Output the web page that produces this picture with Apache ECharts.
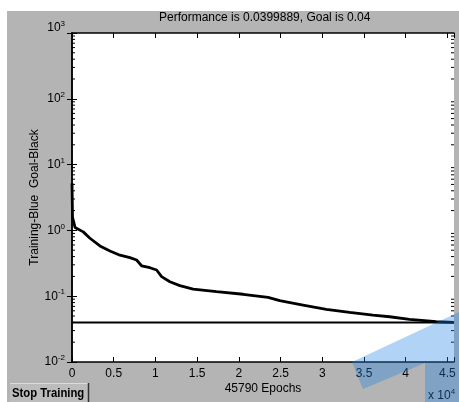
<!DOCTYPE html>
<html>
<head>
<meta charset="utf-8">
<script src="https://cdn.jsdelivr.net/npm/echarts@6/dist/echarts.min.js"></script>
<style>
  html, body { margin: 0; padding: 0; background: #fff; }
  #chart { width: 459px; height: 402px; }
</style>
</head>
<body>
<div id="chart"></div>
<script>
;(function () {
  // training curve
  const epochs = [0, 30, 60, 360, 1350, 2150, 3350, 4550, 5750, 6940, 7740, 8340, 9340, 10140, 10740, 11730, 12930,
    14520, 17320, 20510, 23500, 24900, 27690, 30490, 33280, 36070, 38070, 40460, 42260, 43650, 45790]
  const performance = [5.2, 3.0, 1.6, 1.11, 0.95, 0.76, 0.58, 0.487, 0.42, 0.385, 0.355, 0.29, 0.271, 0.25, 0.198, 0.166,
    0.145, 0.128, 0.117, 0.107, 0.096, 0.0855, 0.0734, 0.063, 0.0569, 0.0517, 0.0487, 0.0446, 0.0425, 0.0409, 0.04]
  const goal = 0.04
  const totalEpochs = 45790
  const xTickStep = 5000
  const yDecades = [-2, -1, 0, 1, 2]
  const minorSteps = [2, 3, 4, 5, 6, 7, 8, 9]

  const font = "'Liberation Sans', Arial, sans-serif"
  const ink = '#000'

  const minorTicks = []
  for (const d of yDecades) {
    for (const k of minorSteps) minorTicks.push([0, k * Math.pow(10, d)])
  }

  const powRich = {
    b: { fontSize: 12, lineHeight: 16, fontFamily: font, color: ink },
    s: { fontSize: 8, lineHeight: 8, verticalAlign: 'top', fontFamily: font, color: ink },
    g: { fontSize: 1, lineHeight: 10 },
  }

  function powLabel(v) {
    const e = Math.round(Math.log10(v))
    // the top label sits a little above its tick, as in the original
    return e === 3 ? `{b|10}{s|${e}}\n{g| }` : `{b|10}{s|${e}}`
  }

  function renderMinorTick(params, api) {
    const y = api.coord([0, api.value(1)])[1]
    const { x, width } = params.coordSys
    const style = { stroke: ink, lineWidth: 1 }
    return {
      type: 'group',
      children: [
        { type: 'line', shape: { x1: x, y1: y, x2: x + 3, y2: y }, style },
        { type: 'line', shape: { x1: x + width, y1: y, x2: x + width - 3, y2: y }, style },
      ],
    }
  }

  const frame = { show: true, lineStyle: { color: ink, width: 1.5 } }
  const tick = { show: true, inside: true, length: 5, lineStyle: { color: ink, width: 1 } }

  const chart = echarts.init(document.getElementById('chart'))
  chart.setOption({
    animation: false,
    backgroundColor: '#b4b4b4',
    title: {
      text: 'Performance is 0.0399889, Goal is 0.04',
      left: 159,
      top: 12,
      padding: 0,
      textStyle: { fontSize: 12, fontWeight: 'normal', fontFamily: font, color: ink },
    },
    grid: { left: 72, right: 5, top: 33, bottom: 40, show: true, backgroundColor: '#fff', borderWidth: 0 },
    xAxis: [
      {
        type: 'value',
        position: 'bottom',
        min: 0,
        max: totalEpochs,
        interval: xTickStep,
        axisLine: frame,
        axisTick: tick,
        splitLine: { show: false },
        axisLabel: {
          margin: 6,
          fontSize: 12,
          fontFamily: font,
          color: ink,
          formatter: (v) => (v % xTickStep === 0 ? String(v / 10000) : ''),
        },
        name: '45790 Epochs',
        nameLocation: 'middle',
        nameGap: 21,
        nameMoveOverlap: false,
        nameTextStyle: { fontSize: 12, fontFamily: font, color: ink },
      },
      {
        type: 'value',
        position: 'top',
        min: 0,
        max: totalEpochs,
        interval: xTickStep,
        axisLine: frame,
        axisTick: tick,
        splitLine: { show: false },
        axisLabel: { show: false },
      },
    ],
    yAxis: [
      {
        type: 'log',
        logBase: 10,
        position: 'left',
        min: 0.01,
        max: 1000,
        axisLine: frame,
        axisTick: tick,
        splitLine: { show: false },
        axisLabel: { margin: 7, formatter: powLabel, rich: powRich },
        name: 'Training-Blue  Goal-Black',
        nameLocation: 'middle',
        nameGap: 31,
        nameMoveOverlap: false,
        nameTextStyle: { fontSize: 12, fontFamily: font, color: ink },
      },
      {
        type: 'log',
        logBase: 10,
        position: 'right',
        min: 0.01,
        max: 1000,
        axisLine: frame,
        axisTick: tick,
        splitLine: { show: false },
        axisLabel: { show: false },
      },
    ],
    series: [
      {
        name: 'Goal',
        type: 'line',
        data: [[0, goal], [totalEpochs, goal]],
        symbol: 'none',
        lineStyle: { color: ink, width: 2 },
        z: 3,
      },
      {
        name: 'Training',
        type: 'line',
        data: epochs.map((e, i) => [e, performance[i]]),
        symbol: 'none',
        lineStyle: { color: ink, width: 2.8 },
        z: 4,
      },
      {
        name: 'minor ticks',
        type: 'custom',
        data: minorTicks,
        renderItem: renderMinorTick,
        silent: true,
        z: 5,
      },
    ],
    graphic: [
      { type: 'rect', shape: { x: 0, y: 0, width: 459, height: 11 }, style: { fill: '#fff' } },
      { type: 'rect', shape: { x: 0, y: 0, width: 7, height: 402 }, style: { fill: '#fff' } },
      // stop training button
      { type: 'rect', shape: { x: 10, y: 383, width: 79, height: 19 }, style: { fill: '#bcbcbc' } },
      { type: 'line', shape: { x1: 10, y1: 383.5, x2: 88, y2: 383.5 }, style: { stroke: '#dcdcdc', lineWidth: 1 } },
      { type: 'line', shape: { x1: 88.5, y1: 383, x2: 88.5, y2: 402 }, style: { stroke: '#333', lineWidth: 1.5 } },
      {
        type: 'text',
        x: 12,
        y: 393,
        scaleX: 0.87,
        style: { text: 'Stop Training', fontSize: 13, fontWeight: 'bold', fontFamily: font, fill: ink, verticalAlign: 'middle' },
      },
      {
        type: 'text',
        x: 428,
        y: 396,
        style: { text: '{b|x 10}{s|4}', rich: powRich, verticalAlign: 'middle' },
      },
      // blue selection overlay
      {
        type: 'polygon',
        z: 100,
        shape: { points: [[352, 362], [459, 312], [459, 402], [425, 402], [425, 363], [363, 389]] },
        style: { fill: 'rgba(30,130,230,0.35)' },
      },
    ],
  })
})()
</script>
</body>
</html>
